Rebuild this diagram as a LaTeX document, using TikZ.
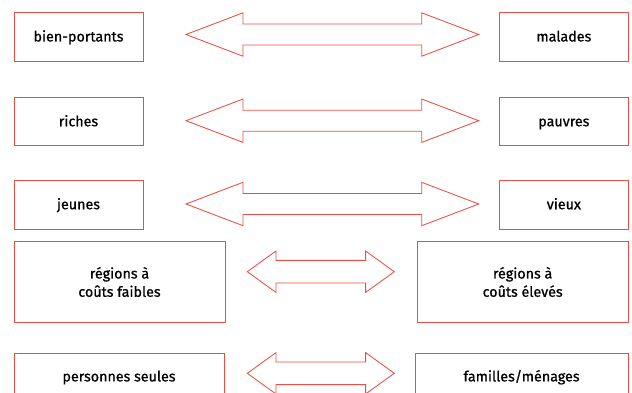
\documentclass[tikz,border=0pt]{standalone}
\usepackage{fontspec}
\newfontfamily\labelfont{Fira Sans}[FakeBold=0.8]
\definecolor{boxred}{RGB}{232,78,68}
\tikzset{
  termbox/.style={draw=boxred, line width=0.85pt, inner sep=0pt, align=center,
    font=\labelfont\fontsize{14.3}{18.3}\selectfont, text=black},
  oneline/.style={termbox, text height=12.2pt, text depth=3pt},
  arrowline/.style={draw=boxred, line width=0.85pt, line join=miter}
}
% double-headed block arrow: #1 centre y, #2 left tip x, #3 right tip x,
% #4 head length, #5 head half-height, #6 shaft half-height
\newcommand{\biarrow}[6]{%
  \draw[arrowline] (#2,#1) -- (#2+#4,#1-#5) -- (#2+#4,#1-#6) -- (#3-#4,#1-#6)
    -- (#3-#4,#1-#5) -- (#3,#1) -- (#3-#4,#1+#5) -- (#3-#4,#1+#6)
    -- (#2+#4,#1+#6) -- (#2+#4,#1+#5) -- cycle;}
\begin{document}
\begin{tikzpicture}[x=1pt, y=-1pt]
\useasboundingbox (0,0) rectangle (632,392);
\clip (0,0) rectangle (632,392);

% row 1
\node[oneline, minimum width=129pt, minimum height=48.3pt] (bp) at (78.5,36.85) {bien-portants};
\node[oneline, minimum width=128.3pt, minimum height=48.3pt] (ma) at (563.85,36.85) {malades};
\biarrow{34.5}{186}{478.7}{57}{21.7}{10.5}

% row 2
\node[oneline, minimum width=129pt, minimum height=48pt] (ri) at (78.5,121.7) {riches};
\node[oneline, minimum width=128.3pt, minimum height=48pt] (pa) at (563.85,121.7) {pauvres};
\biarrow{120.7}{186}{478.7}{57}{21.7}{10.5}

% row 3
\node[oneline, minimum width=129pt, minimum height=48.7pt] (je) at (78.5,204.65) {jeunes};
\node[oneline, minimum width=128.3pt, minimum height=48.7pt] (vi) at (563.85,204.65) {vieux};
\biarrow{204}{186}{478.7}{57}{21.7}{10.5}

% row 4
\node[termbox, minimum width=211pt, minimum height=80.6pt] (rf) at (119.5,282) {régions à\\coûts faibles};
\node[termbox, minimum width=210.7pt, minimum height=80.6pt] (re) at (522.65,282) {régions à\\coûts élevés};
\biarrow{271.7}{247.3}{394.3}{28.7}{20.7}{11.3}

% row 5
\node[oneline, minimum width=210pt, minimum height=46pt] (ps) at (119,376.8) {personnes seules};
\node[oneline, minimum width=213pt, minimum height=46pt] (fm) at (521.5,376.8) {familles/ménages};
\biarrow{373.3}{247.3}{394.3}{28.7}{20.7}{11.3}
\end{tikzpicture}
\end{document}
